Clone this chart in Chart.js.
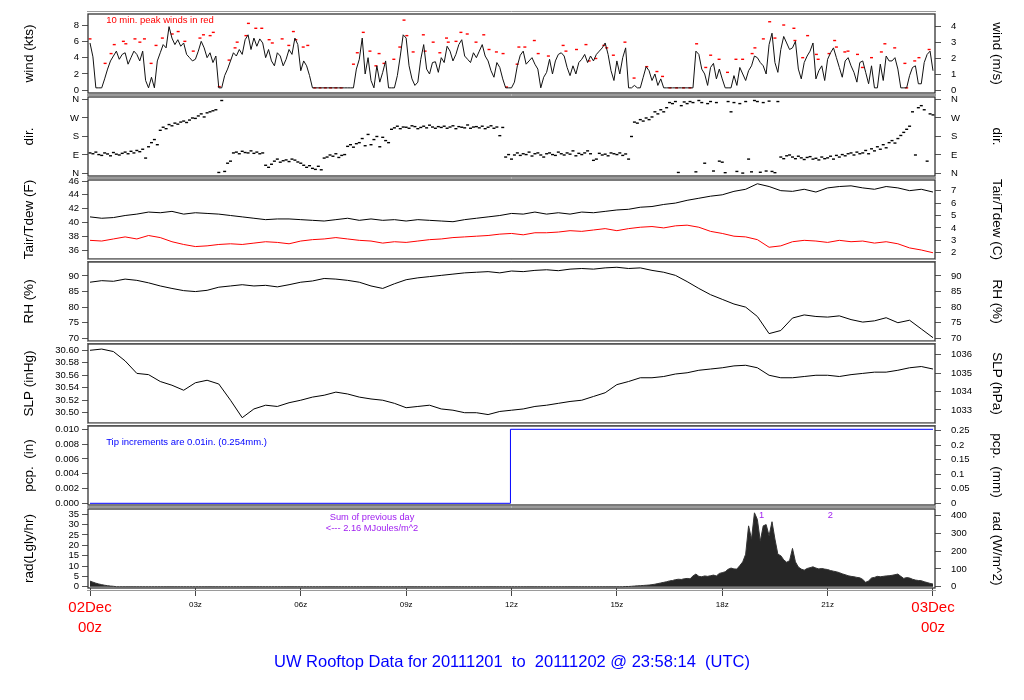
<!DOCTYPE html>
<html>
<head>
<meta charset="utf-8">
<title>UW Rooftop Data</title>
<script src="https://cdn.jsdelivr.net/npm/chart.js@4.4.1/dist/chart.umd.min.js"></script>
<style>
  body { margin: 0; background: #fff; width: 1024px; height: 700px; overflow: hidden; position: relative;
         font-family: "Liberation Sans", Arial, sans-serif; }
  canvas { position: absolute; left: 0; }
  #title { position: absolute; top: 651px; left: 0; width: 1024px; text-align: center;
           color: #0000ff; font-size: 16.5px; line-height: 20px; white-space: pre; }
</style>
</head>
<body>
<canvas id="cWind" width="1024" height="95" style="top:6px"></canvas>
<canvas id="cDir" width="1024" height="95" style="top:89px"></canvas>
<canvas id="cTemp" width="1024" height="95" style="top:172px"></canvas>
<canvas id="cRh" width="1024" height="95" style="top:254px"></canvas>
<canvas id="cSlp" width="1024" height="95" style="top:336px"></canvas>
<canvas id="cPcp" width="1024" height="95" style="top:418px"></canvas>
<canvas id="cRad" width="1024" height="147" style="top:501px"></canvas>
<div id="title">UW Rooftop Data for 20111201  to  20111202 @ 23:58:14  (UTC)</div>
<script>
// 5-minute samples, 02Dec 00z .. 03Dec 00z (one row per hour)
const windKts = [
  5.8, 4.1, 0.3, 0.3, 0.3, 1.4, 2.6, 3.6, 4.2, 4.8, 3.8, 4.4,
  4.6, 3.2, 4.0, 4.8, 4.4, 3.6, 4.8, 1.2, 0.3, 1.6, 0.3, 3.6,
  4.6, 5.6, 5.2, 7.8, 6.4, 5.6, 6.2, 5.4, 5.8, 4.4, 4.0, 3.6,
  3.8, 4.8, 6.0, 5.2, 4.0, 4.6, 3.4, 4.2, 0.3, 0.3, 1.8, 2.6,
  3.6, 4.6, 4.2, 5.0, 4.4, 6.2, 6.8, 5.0, 6.4, 5.4, 6.3, 5.8,
  4.0, 5.0, 3.6, 3.0, 4.6, 4.2, 3.0, 3.8, 5.0, 4.4, 6.4, 5.6,
  2.4, 3.6, 3.0, 1.8, 0.3, 0.3, 0.3, 0.3, 0.3, 0.3, 0.3, 0.3,
  0.3, 0.3, 0.3, 0.3, 0.3, 0.3, 0.3, 2.6, 3.8, 6.4, 2.0, 4.0,
  1.2, 0.3, 3.0, 1.0, 2.2, 3.6, 0.3, 0.3, 0.3, 1.8, 4.2, 6.8,
  6.4, 3.0, 1.4, 0.6, 1.0, 3.8, 5.6, 2.6, 2.0, 3.4, 3.5, 2.2,
  4.0, 3.4, 5.4, 4.8, 3.6, 4.4, 5.6, 6.2, 4.2, 3.8, 3.4, 4.6,
  4.0, 4.8, 5.6, 4.2, 3.6, 2.4, 1.6, 3.4, 2.8, 1.4, 0.3, 0.3,
  0.3, 1.0, 3.0, 4.3, 4.8, 3.2, 3.6, 4.0, 3.2, 2.6, 0.3, 1.6,
  2.2, 3.8, 2.0, 3.6, 4.4, 4.6, 4.2, 2.8, 1.8, 3.0, 2.0, 3.4,
  3.8, 4.4, 3.4, 4.2, 3.6, 4.4, 4.8, 5.2, 5.8, 4.4, 2.4, 1.2,
  3.6, 2.0, 4.0, 5.2, 0.3, 0.3, 0.6, 0.3, 0.3, 1.6, 2.9, 2.4,
  1.2, 2.0, 0.6, 1.4, 0.3, 0.3, 0.3, 0.3, 0.3, 0.3, 0.3, 0.3,
  0.3, 0.3, 0.3, 4.8, 4.4, 2.6, 2.0, 0.6, 2.8, 3.3, 1.4, 2.6,
  1.4, 0.3, 0.3, 0.3, 1.8, 0.6, 2.8, 2.0, 1.2, 2.4, 3.0, 4.2,
  4.0, 3.4, 3.0, 2.0, 5.6, 7.0, 3.4, 2.2, 5.0, 6.6, 5.8, 5.0,
  5.2, 6.0, 2.6, 1.4, 3.4, 4.2, 4.8, 5.8, 1.4, 2.4, 3.0, 1.2,
  3.8, 4.6, 5.2, 4.0, 2.8, 1.6, 3.6, 4.0, 3.0, 2.2, 1.0, 3.4,
  3.6, 2.2, 0.8, 3.0, 0.3, 0.3, 3.2, 1.2, 4.2, 3.6, 3.6, 4.0,
  2.6, 0.3, 0.3, 0.3, 1.8, 2.8, 3.0, 0.8, 0.8, 3.4, 4.4, 4.8,
  2.4
];

// 10 min. peak winds (red dashes)
const peakHours = [
  0.0, 0.43, 0.60, 0.69, 0.95, 1.02, 1.28, 1.42, 1.55, 1.74, 1.88, 2.06, 2.34, 2.51, 2.70, 2.94,
  3.13, 3.23, 3.42, 3.51, 3.68, 3.96, 4.13, 4.19, 4.44, 4.51, 4.72, 4.89, 5.10, 5.19, 5.47, 5.66,
  5.79, 5.86, 6.07, 6.20, 6.40, 6.55, 6.70, 6.85, 7.00, 7.15, 7.50, 7.61, 7.78, 7.97, 8.14, 8.23,
  8.37, 8.65, 8.82, 8.94, 9.02, 9.20, 9.49, 9.54, 9.77, 9.96, 10.15, 10.20, 10.42, 10.56, 10.74, 10.99,
  11.21, 11.36, 11.57, 11.76, 11.86, 12.16, 12.21, 12.38, 12.65, 12.76, 13.05, 13.47, 13.55, 13.85, 14.12, 14.21,
  14.40, 14.63, 14.71, 14.90, 15.23, 15.49, 15.85, 16.14, 16.30, 16.51, 16.70, 16.90, 17.08, 17.27, 17.53, 17.67,
  17.91, 18.15, 18.39, 18.58, 18.85, 18.93, 19.17, 19.35, 19.50, 19.75, 20.04, 20.07, 20.29, 20.43, 20.68, 20.73,
  21.04, 21.20, 21.25, 21.49, 21.58, 21.85, 21.99, 22.25, 22.53, 22.63, 22.91, 23.20, 23.25, 23.48, 23.60, 23.89
];
const peakKts = [
  6.3, 3.3, 4.5, 5.6, 6.0, 5.7, 6.3, 5.9, 6.3, 3.3, 5.5, 6.4, 6.9, 7.2, 6.0, 4.8,
  6.4, 6.8, 6.7, 7.1, 0.45, 3.7, 5.2, 5.9, 6.7, 8.2, 7.6, 7.6, 6.2, 5.8, 6.3, 5.5,
  7.2, 6.2, 5.3, 5.5, 0.3, 0.3, 0.3, 0.3, 0.3, 0.3, 3.2, 4.6, 7.1, 4.8, 3.0, 4.5,
  3.3, 3.8, 5.3, 8.6, 6.7, 4.7, 6.8, 4.8, 5.9, 4.6, 6.4, 5.9, 6.0, 7.1, 6.9, 5.9,
  6.8, 5.0, 4.7, 4.5, 0.4, 3.2, 5.3, 5.3, 6.1, 4.5, 4.2, 5.5, 4.8, 5.0, 5.6, 3.6,
  3.9, 5.5, 5.2, 4.3, 5.9, 1.5, 2.9, 2.3, 1.7, 0.3, 0.3, 0.3, 0.3, 5.7, 2.8, 4.3,
  3.8, 2.2, 3.8, 3.8, 4.5, 5.2, 6.3, 8.4, 6.4, 8.0, 7.6, 6.1, 4.0, 6.7, 4.4, 3.8,
  4.5, 6.1, 5.3, 4.7, 4.8, 4.4, 2.8, 4.0, 4.7, 5.7, 5.2, 3.3, 0.3, 3.6, 4.0, 5.0
];

// wind direction, degrees (0/360 = N), 5-minute samples
const dirDeg = [
  100, 96, 104, 92, 88, 100, 95, 86, 102, 94, 90, 98,
  104, 96, 108, 100, 112, 106, 118, 75, 130, 150, 165, 140,
  210, 225, 218, 238, 232, 245, 240, 250, 255, 248, 260, 270,
  268, 280, 290, 275, 295, 300, 305, 310, 5, 355, 10, 50,
  60, 100, 104, 96, 108, 102, 100, 110, 98, 104, 96, 100,
  40, 30, 45, 60, 70, 55, 62, 66, 58, 70, 65, 56,
  50, 40, 30, 38, 25, 20, 35, 18, 75, 80, 90, 84,
  96, 78, 88, 92, 132, 140, 128, 145, 150, 170, 135, 190,
  140, 165, 180, 130, 176, 160, 150, 215, 222, 230, 218, 226,
  225, 220, 232, 228, 218, 224, 230, 222, 235, 226, 220, 228,
  224, 230, 220, 226, 232, 218, 228, 225, 222, 236, 220, 226,
  228, 222, 230, 218, 225, 232, 220, 226, 184, 224, 80, 92,
  70, 90, 100, 88, 96, 92, 104, 85, 96, 100, 90, 80,
  96, 100, 92, 88, 104, 96, 90, 100, 94, 110, 86, 98,
  92, 100, 110, 96, 64, 70, 98, 90, 94, 86, 100, 96,
  92, 100, 88, 95, 70, 180, 250, 245, 262, 255, 270, 262,
  275, 300, 290, 310, 300, 320, 345, 340, 350, 5, 330, 348,
  340, 350, 345, 8, 355, 345, 50, 340, 350, 12, 345, 60,
  55, 4, 350, 300, 345, 10, 340, 2, 350, 70, 8, 355,
  350, 6, 345, 12, 352, 10, 4, 350, 80, 72, 86, 90,
  80, 72, 84, 76, 68, 78, 82, 70, 74, 66, 80, 72,
  76, 84, 70, 88, 80, 92, 86, 96, 100, 90, 104, 96,
  100, 112, 96, 120, 110, 130, 118, 140, 125, 150, 160, 148,
  170, 185, 200, 215, 230, 300, 90, 320, 330, 310, 60, 290,
  285
];

// 20-minute samples (three per hour)
const tairF = [
  40.8, 40.6, 40.7, 41.0, 41.2, 41.5, 41.4, 41.6, 41.2, 41.4, 41.3, 41.2,
  41.0, 40.8, 40.6, 40.4, 40.5, 40.5, 40.4, 40.3, 40.2, 40.4, 40.6, 40.3,
  40.5, 40.3, 40.4, 40.2, 40.4, 40.3, 40.2, 40.1, 40.4, 40.6, 40.8, 41.0,
  41.3, 41.2, 41.5, 41.2, 41.4, 41.2, 41.5, 41.4, 41.6, 41.8, 41.9, 42.2,
  42.3, 42.6, 42.8, 43.2, 43.5, 43.8, 44.0, 44.5, 44.8, 45.6, 45.2, 44.6,
  44.5, 44.8, 44.4, 45.0, 45.2, 45.3, 45.0, 44.8, 45.2, 45.0, 44.6, 44.8,
  44.4
];
const tdewF = [
  37.4, 37.3, 37.6, 37.9, 37.6, 38.1, 37.8, 37.2, 36.8, 36.5, 36.6, 36.8,
  36.9, 36.8, 37.0, 37.2, 37.1, 36.9, 37.3, 37.5, 37.6, 37.8, 37.6, 37.4,
  37.3, 37.0, 37.2, 37.1, 37.3, 37.5, 37.6, 37.8, 37.9, 38.0, 38.1, 38.3,
  38.4, 38.2, 38.5, 38.5, 38.6, 38.8, 38.7, 38.9, 39.1, 38.8, 39.1, 39.3,
  39.4, 39.2, 39.5, 39.6, 39.3, 38.7, 38.4, 38.0, 37.9, 37.5, 36.4, 36.6,
  37.2, 37.4, 37.3, 37.1, 37.4, 37.2, 37.3, 37.0, 37.2, 36.9, 36.3, 36.0,
  35.6
];
const rhPct = [
  88.0, 88.5, 88.3, 89.0, 88.6, 87.8, 86.8, 86.0, 85.3, 85.0, 85.4, 86.4,
  86.8, 87.2, 86.8, 87.0, 86.5, 87.2, 88.0, 88.4, 89.2, 89.0, 88.6, 88.0,
  86.8, 86.0, 87.5, 88.8, 89.4, 89.8, 90.2, 90.6, 91.0, 91.2, 91.4, 91.0,
  91.6, 91.4, 91.8, 92.0, 91.7, 92.2, 92.4, 92.2, 92.6, 92.8, 92.4, 92.6,
  91.8, 91.2, 90.2, 88.2, 86.0, 84.0, 82.5, 81.0, 80.0, 77.0, 71.5, 72.5,
  76.5, 77.5, 77.0, 76.8, 77.2, 76.0, 75.2, 75.6, 76.6, 75.0, 75.8, 73.0,
  70.2
];
const slpInHg = [
  30.600, 30.602, 30.598, 30.583, 30.563, 30.561, 30.550, 30.544, 30.536, 30.548, 30.552, 30.546,
  30.520, 30.492, 30.506, 30.512, 30.510, 30.516, 30.520, 30.525, 30.528, 30.533, 30.530, 30.525,
  30.522, 30.520, 30.515, 30.508, 30.510, 30.512, 30.506, 30.504, 30.500, 30.500, 30.497, 30.502,
  30.504, 30.506, 30.510, 30.512, 30.515, 30.518, 30.520, 30.526, 30.532, 30.545, 30.550, 30.556,
  30.556, 30.558, 30.562, 30.564, 30.568, 30.570, 30.572, 30.575, 30.576, 30.572, 30.560, 30.556,
  30.556, 30.558, 30.560, 30.560, 30.558, 30.561, 30.563, 30.565, 30.565, 30.568, 30.572, 30.574,
  30.570
];

// precipitation (one 0.01 in. tip just before 12z)
const pcpHours = [0, 11.97, 11.97, 24];
const pcpIn = [0, 0, 0.01, 0.01];

// solar radiation, Langley/hr, 5-minute samples
const radLy = [
  2.7, 2.2, 1.7, 1.3, 1.0, 0.7, 0.5, 0.3, 0.2, 0, 0, 0,
  0, 0, 0, 0, 0, 0, 0, 0, 0, 0, 0, 0,
  0, 0, 0, 0, 0, 0, 0, 0, 0, 0, 0, 0,
  0, 0, 0, 0, 0, 0, 0, 0, 0, 0, 0, 0,
  0, 0, 0, 0, 0, 0, 0, 0, 0, 0, 0, 0,
  0, 0, 0, 0, 0, 0, 0, 0, 0, 0, 0, 0,
  0, 0, 0, 0, 0, 0, 0, 0, 0, 0, 0, 0,
  0, 0, 0, 0, 0, 0, 0, 0, 0, 0, 0, 0,
  0, 0, 0, 0, 0, 0, 0, 0, 0, 0, 0, 0,
  0, 0, 0, 0, 0, 0, 0, 0, 0, 0, 0, 0,
  0, 0, 0, 0, 0, 0, 0, 0, 0, 0, 0, 0,
  0, 0, 0, 0, 0, 0, 0, 0, 0, 0, 0, 0,
  0, 0, 0, 0, 0, 0, 0, 0, 0, 0, 0, 0,
  0, 0, 0, 0, 0, 0, 0, 0, 0, 0, 0, 0,
  0, 0, 0, 0, 0, 0, 0, 0, 0, 0, 0, 0,
  0, 0, 0, 0.1, 0.1, 0.2, 0.3, 0.4, 0.5, 0.6, 0.7, 0.8,
  1.0, 1.2, 1.5, 1.8, 2.1, 2.4, 2.8, 3.0, 3.4, 3.6, 3.5, 3.8,
  4.0, 3.8, 5.2, 6.1, 5.0, 4.8, 5.2, 5.0, 5.3, 5.6, 5.2, 6.4,
  6.8, 7.2, 8.4, 9.0, 8.6, 8.5, 10.2, 12.0, 15.7, 29.4, 23.0, 35.7,
  32.5, 22.0, 29.4, 30.0, 24.6, 31.4, 23.0, 15.7, 15.0, 13.0, 11.8, 12.6,
  18.5, 12.0, 9.5, 8.5, 8.0, 8.8, 9.2, 9.6, 9.0, 8.6, 8.8, 8.5,
  8.3, 7.8, 7.5, 7.2, 6.8, 6.2, 5.8, 5.3, 5.0, 4.8, 4.5, 4.3,
  3.5, 2.1, 2.8, 4.2, 4.5, 5.0, 4.8, 5.0, 5.2, 5.3, 5.5, 5.8,
  6.1, 5.0, 4.0, 4.4, 4.2, 3.6, 3.2, 3.0, 2.9, 2.4, 2.0, 1.6,
  1.3
];

// time axis
const hourTicks = [0, 3, 6, 9, 12, 15, 18, 21, 24];
const hourLabels = [['02Dec', '00z'], '03z', '06z', '09z', '12z', '15z', '18z', '21z', ['03Dec', '00z']];

const X_MIN = -0.057, X_MAX = 24.057;
const KT_TO_MS = 0.514444, INHG_TO_HPA = 33.8639, LY_TO_WM2 = 11.63;
const dirNames = { 0: 'N', 90: 'E', 180: 'S', 270: 'W', 360: 'N' };
const FONT = '"Liberation Sans", Arial, sans-serif';
Chart.defaults.font.family = FONT;

const pts = (vals, step) => vals.map((v, i) => ({ x: i * step, y: v }));
const pairs = (xs, ys) => xs.map((x, i) => ({ x: x, y: ys[i] }));
const plain = v => String(Math.round(v * 1000) / 1000);

// panel frame: dark box plus grey rule above and below
const framePlugin = {
  id: 'frame',
  afterDraw(chart) {
    const { ctx, chartArea: a } = chart;
    ctx.save();
    ctx.strokeStyle = '#9a9a9a';
    ctx.lineWidth = 1;
    ctx.beginPath();
    ctx.moveTo(a.left - 1, a.top - 2.5); ctx.lineTo(a.right + 1, a.top - 2.5);
    ctx.moveTo(a.left - 1, a.bottom + 2.5); ctx.lineTo(a.right + 1, a.bottom + 2.5);
    ctx.stroke();
    ctx.strokeStyle = '#333';
    ctx.lineWidth = 1.3;
    ctx.strokeRect(a.left, a.top, a.right - a.left, a.bottom - a.top);
    ctx.restore();
  }
};

function notes(list) {
  return {
    id: 'notes',
    afterDatasetsDraw(chart) {
      const { ctx, scales } = chart;
      ctx.save();
      list.forEach(n => {
        ctx.font = n.size + 'px ' + FONT;
        ctx.fillStyle = n.color;
        ctx.textAlign = n.align || 'left';
        ctx.textBaseline = 'middle';
        ctx.fillText(n.text, scales.x.getPixelForValue(n.x), scales.yl.getPixelForValue(n.y));
      });
      ctx.restore();
    }
  };
}

function yAxis(pos, a) {
  const left = pos === 'left';
  return {
    type: 'linear',
    position: pos,
    min: a.min,
    max: a.max,
    // fixed widths so every panel shares one plot area; no extra label padding
    afterFit: s => { s.width = left ? 88 : 89; s.paddingTop = 0; s.paddingBottom = 0; },
    border: { display: false },
    grid: { drawOnChartArea: false, drawTicks: true, tickLength: 6, color: '#555', lineWidth: 1 },
    ticks: {
      stepSize: a.step, includeBounds: false, autoSkip: false,
      padding: left ? 3 : 10, color: '#000', font: { size: 9.5 },
      callback: a.fmt || plain
    },
    title: {
      display: true, text: a.title, color: '#000', font: { size: 13.5 },
      padding: { top: left ? 21 : 19, bottom: 0 }
    }
  };
}

const hiddenX = { type: 'linear', min: X_MIN, max: X_MAX, display: false };

const timeAxis = {
  type: 'linear',
  min: X_MIN,
  max: X_MAX,
  afterFit: s => { s.height = 60; s.paddingLeft = 0; s.paddingRight = 0; },
  border: { display: false },
  grid: { drawOnChartArea: false, drawTicks: true, tickLength: 8, color: '#444' },
  ticks: {
    stepSize: 3, includeBounds: false, autoSkip: false, maxRotation: 0, padding: 2,
    callback: v => hourLabels[hourTicks.indexOf(Math.round(v))],
    color: c => (c.tick && c.tick.value % 24 === 0) ? '#ff0000' : '#000',
    font: c => (c.tick && c.tick.value % 24 === 0) ? { size: 15, lineHeight: 1.34 } : { size: 8, lineHeight: 1.75 }
  }
};

function panel(id, cfg) {
  return new Chart(document.getElementById(id), {
    type: 'line',
    data: { datasets: cfg.datasets.map(d => Object.assign({ xAxisID: 'x', yAxisID: 'yl', tension: 0, pointRadius: 0 }, d)) },
    options: {
      responsive: false,
      animation: false,
      layout: { padding: { top: 8, bottom: cfg.time ? 0 : 8, left: 0, right: 0 } },
      plugins: { legend: { display: false }, tooltip: { enabled: false } },
      scales: {
        x: cfg.time ? timeAxis : hiddenX,
        yl: yAxis('left', cfg.left),
        yr: yAxis('right', cfg.right)
      }
    },
    plugins: [framePlugin, notes(cfg.notes || [])]
  });
}

panel('cWind', {
  datasets: [
    { data: pts(windKts, 1 / 12), borderColor: '#111', borderWidth: 1 },
    { data: pairs(peakHours, peakKts), showLine: false, pointStyle: 'line', pointRadius: 1.5,
      pointBorderColor: '#ff0000', pointBorderWidth: 1.4 }
  ],
  left: { min: -0.33, max: 9.35, step: 2, title: 'wind (kts)' },
  right: { min: -0.33 * KT_TO_MS, max: 9.35 * KT_TO_MS, step: 1, title: 'wind (m/s)' },
  notes: [{ x: 0.46, y: 8.6, text: '10 min. peak winds in red', color: '#ff0000', size: 9.5 }]
});

const dirAxis = { min: -12.2, max: 372.1, step: 90, title: 'dir.', fmt: v => dirNames[Math.round(v)] || '' };
panel('cDir', {
  datasets: [
    { data: pts(dirDeg, 1 / 12), showLine: false, pointStyle: 'line', pointRadius: 1.5,
      pointBorderColor: '#000', pointBorderWidth: 1.4 }
  ],
  left: dirAxis,
  right: dirAxis
});

panel('cTemp', {
  datasets: [
    { data: pts(tairF, 1 / 3), borderColor: '#000', borderWidth: 1 },
    { data: pts(tdewF, 1 / 3), borderColor: '#ff0000', borderWidth: 1 }
  ],
  left: { min: 34.696, max: 46.145, step: 2, title: 'Tair/Tdew (F)' },
  right: { min: (34.696 - 32) / 1.8, max: (46.145 - 32) / 1.8, step: 1, title: 'Tair/Tdew (C)' }
});

const rhAxis = { min: 69.13, max: 94.49, step: 5, title: 'RH (%)' };
panel('cRh', {
  datasets: [{ data: pts(rhPct, 1 / 3), borderColor: '#000', borderWidth: 1 }],
  left: rhAxis,
  right: rhAxis
});

panel('cSlp', {
  datasets: [{ data: pts(slpInHg, 1 / 3), borderColor: '#000', borderWidth: 1 }],
  left: { min: 30.4835, max: 30.6101, step: 0.02, title: 'SLP (inHg)', fmt: v => v.toFixed(2) },
  right: { min: 30.4835 * INHG_TO_HPA, max: 30.6101 * INHG_TO_HPA, step: 1, title: 'SLP (hPa)' }
});

panel('cPcp', {
  datasets: [{ data: pairs(pcpHours, pcpIn), borderColor: '#0000ff', borderWidth: 1 }],
  left: { min: -0.00023, max: 0.010446, step: 0.002, title: 'pcp.  (in)', fmt: v => v.toFixed(3) },
  right: { min: -0.00023 * 25.4, max: 0.010446 * 25.4, step: 0.05, title: 'pcp.  (mm)',
           fmt: v => String(Math.round(v * 100) / 100) },
  notes: [{ x: 0.46, y: 0.00824, text: 'Tip increments are 0.01in. (0.254mm.)', color: '#0000ff', size: 9.5 }]
});

panel('cRad', {
  time: true,
  datasets: [{ data: pts(radLy, 1 / 12), borderColor: '#333', borderWidth: 1,
               backgroundColor: '#262626', fill: 'origin' }],
  left: { min: -0.63, max: 37.55, step: 5, title: 'rad(Lgly/hr)' },
  right: { min: -0.63 * LY_TO_WM2, max: 37.55 * LY_TO_WM2, step: 100, title: 'rad (W/m^2)' },
  notes: [
    { x: 8.03, y: 33.7, text: 'Sum of previous day', color: '#a020f0', size: 9.3, align: 'center' },
    { x: 8.03, y: 28.1, text: '<--- 2.16 MJoules/m^2', color: '#a020f0', size: 9.3, align: 'center' },
    { x: 19.12, y: 34.4, text: '1', color: '#a020f0', size: 9.3, align: 'center' },
    { x: 21.08, y: 34.4, text: '2', color: '#a020f0', size: 9.3, align: 'center' }
  ]
});
</script>
</body>
</html>
